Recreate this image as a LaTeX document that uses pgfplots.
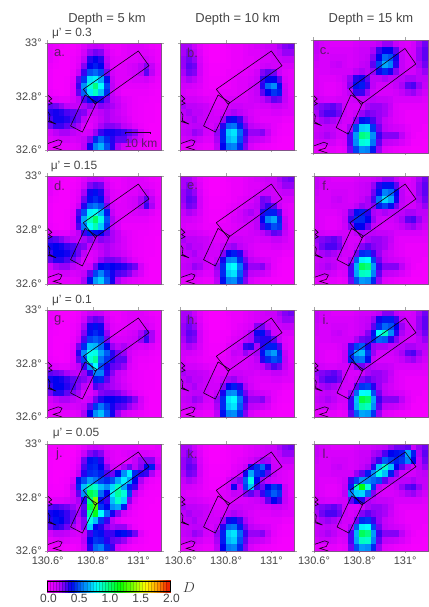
\documentclass[border=0pt]{standalone}
\usepackage{fontspec}
\setmainfont{Liberation Sans}
\usepackage{pgfplots}
\pgfplotsset{compat=1.18}
\definecolor{txtc}{RGB}{70,70,70}
\definecolor{edgec}{RGB}{130,85,135}
\definecolor{tickc}{RGB}{165,165,165}
\definecolor{lettc}{RGB}{95,25,105}
\pgfplotsset{colormap={hmap}{rgb255=(255,0,255) rgb255=(190,0,250) rgb255=(0,0,240) rgb255=(0,130,250) rgb255=(0,255,255) rgb255=(0,255,128) rgb255=(0,255,0) rgb255=(128,255,0) rgb255=(255,255,0) rgb255=(255,160,0) rgb255=(235,20,0)}}
\newcommand{\sizeK}{\fontsize{11}{13}\selectfont}
\newcommand{\sizeL}{\fontsize{12}{14}\selectfont}
\newcommand{\sizeM}{\fontsize{13}{15}\selectfont}
\newcommand{\sizeN}{\fontsize{15}{17}\selectfont}
\newcommand{\onepanel}[8]{%
\begin{axis}[at={(#1bp,#2bp)},anchor=south west,scale only axis,width=#3bp,height=#4bp,
 xmin=130.6,xmax=131.1,ymin=32.6,ymax=33,
 xtick={130.6,130.8,131},ytick={32.6,32.8,33},
 xticklabels={#6},yticklabels={#7},
 tick align=outside,tick pos=both,major tick length=2.5bp,
 tick style={color=tickc,line width=.6bp},
 axis line style={color=edgec,line width=.6bp},
 xticklabel style={font=\sizeK,text=txtc},
 yticklabel style={font=\sizeK,text=txtc},
 xticklabel pos=lower,yticklabel pos=left,
 colormap name=hmap,point meta min=0,point meta max=2]
\addplot[scatter,only marks,mark=square*,mark size=3.6bp,mark options={xscale=.81},
 scatter/use mapped color={draw=mapped color,fill=mapped color,line width=.4bp},
 point meta={\thisrowno{0}/100}] table[row sep=crcr,header=false,x index=0,y index=0,
 x expr={130.6125+0.025*mod(\coordindex,20)},y expr={32.9875-0.025*floor((\coordindex+0.5)/20)}] {#5};
\end{axis}
\begin{axis}[at={(#1bp,#2bp)},anchor=south west,scale only axis,width=#3bp,height=#4bp,
 xmin=130.6,xmax=131.1,ymin=32.6,ymax=33,hide axis,clip=false]
\addplot[black!85!violet,no marks,line width=.6bp] coordinates {(130.757,32.827)(131.0,32.970)(131.047,32.915)(130.809,32.772)(130.757,32.827)};
\addplot[black!85!violet,no marks,line width=.6bp] coordinates {(130.765,32.806)(130.816,32.778)(130.753,32.667)(130.701,32.690)(130.765,32.806)};
\addplot[black!85!violet,no marks,line width=.6bp] coordinates {(130.6,32.806)(130.618,32.791)(130.604,32.783)(130.619,32.775)(130.603,32.768)};
\addplot[black!85!violet,no marks,line width=.6bp] coordinates {(130.6,32.744)(130.610,32.731)(130.607,32.710)(130.637,32.697)(130.6,32.707)};
\addplot[black!85!violet,no marks,line width=.6bp] coordinates {(130.6,32.624)(130.647,32.638)(130.663,32.633)(130.654,32.617)(130.625,32.610)(130.663,32.6)};
\addplot[edgec,no marks,line width=.7bp] coordinates {(130.6,32.6)(131.1,32.6)(131.1,33)(130.6,33)(130.6,32.6)};
\node[anchor=center,text=lettc,font=\sizeM] at (axis cs:130.652,32.962) {#8};
\end{axis}}
\begin{document}
\begin{tikzpicture}
\path[use as bounding box] (0bp,0bp) rectangle (429bp,607bp);
\onepanel{47.7}{457}{113.3}{107}{
8\\6\\4\\3\\3\\5\\10\\16\\18\\16\\10\\6\\6\\8\\10\\10\\10\\8\\6\\5\\
8\\5\\3\\3\\4\\6\\14\\24\\28\\26\\14\\8\\6\\8\\10\\10\\10\\10\\8\\6\\
8\\5\\3\\3\\5\\8\\20\\36\\40\\36\\20\\10\\8\\8\\10\\10\\12\\14\\10\\6\\
6\\4\\3\\3\\5\\10\\26\\40\\44\\40\\22\\10\\8\\10\\12\\14\\20\\26\\18\\8\\
5\\3\\3\\3\\6\\16\\34\\52\\56\\50\\28\\14\\10\\10\\12\\14\\20\\30\\20\\8\\
5\\3\\3\\4\\8\\30\\48\\75\\78\\66\\42\\18\\10\\10\\10\\12\\12\\14\\10\\6\\
5\\3\\3\\4\\10\\34\\62\\86\\100\\80\\50\\20\\10\\8\\8\\8\\8\\8\\6\\5\\
6\\4\\3\\4\\10\\30\\55\\76\\90\\70\\46\\18\\10\\6\\6\\6\\6\\6\\5\\4\\
12\\10\\8\\8\\12\\20\\32\\42\\40\\38\\28\\20\\16\\10\\8\\6\\5\\5\\4\\4\\
30\\28\\24\\20\\18\\18\\22\\26\\22\\26\\24\\22\\18\\12\\8\\6\\5\\4\\4\\3\\
36\\38\\36\\32\\30\\28\\26\\18\\16\\20\\22\\20\\16\\12\\8\\6\\5\\4\\4\\3\\
32\\38\\38\\36\\32\\28\\20\\10\\12\\18\\22\\20\\18\\14\\10\\6\\5\\4\\4\\3\\
28\\34\\34\\30\\26\\22\\12\\8\\14\\22\\26\\26\\24\\20\\16\\10\\6\\4\\3\\3\\
14\\20\\22\\22\\20\\16\\12\\14\\24\\34\\38\\38\\36\\34\\30\\26\\14\\6\\3\\3\\
10\\12\\14\\14\\12\\14\\18\\26\\46\\56\\46\\36\\30\\30\\24\\20\\12\\5\\3\\3\\
6\\8\\8\\8\\8\\10\\20\\38\\60\\68\\52\\36\\22\\14\\10\\8\\6\\4\\3\\3\\
}{,,}{32.6°,32.8°,33°}{a.}
\onepanel{180.7}{457}{113.3}{107}{
22\\22\\16\\8\\4\\2\\2\\3\\5\\6\\6\\8\\10\\12\\14\\16\\16\\22\\26\\28\\
22\\26\\20\\10\\4\\2\\2\\3\\4\\6\\6\\8\\10\\10\\12\\14\\16\\20\\24\\24\\
24\\28\\24\\12\\5\\2\\2\\3\\4\\6\\6\\8\\8\\10\\12\\12\\14\\16\\18\\18\\
24\\30\\28\\14\\6\\3\\3\\4\\4\\6\\6\\8\\8\\10\\14\\16\\14\\14\\12\\12\\
22\\28\\26\\14\\6\\3\\3\\4\\6\\6\\8\\8\\10\\14\\26\\30\\28\\16\\10\\8\\
18\\22\\20\\12\\6\\4\\4\\5\\6\\8\\10\\10\\12\\16\\34\\40\\40\\30\\12\\8\\
14\\14\\12\\10\\6\\4\\4\\6\\6\\8\\10\\10\\14\\18\\36\\56\\62\\42\\16\\8\\
12\\10\\10\\8\\6\\6\\6\\8\\8\\8\\10\\10\\14\\18\\30\\40\\48\\44\\18\\8\\
16\\14\\14\\12\\10\\8\\8\\10\\12\\12\\12\\12\\14\\16\\20\\24\\30\\28\\18\\10\\
22\\20\\20\\18\\16\\12\\10\\10\\14\\16\\16\\14\\14\\12\\14\\14\\18\\18\\14\\10\\
20\\22\\20\\20\\16\\14\\12\\14\\20\\22\\20\\16\\12\\10\\10\\10\\12\\12\\10\\10\\
18\\20\\22\\18\\16\\14\\14\\24\\38\\42\\34\\22\\14\\10\\8\\8\\8\\8\\6\\6\\
16\\18\\20\\20\\16\\12\\18\\36\\56\\58\\44\\28\\20\\16\\14\\12\\8\\6\\4\\4\\
18\\20\\24\\22\\14\\12\\24\\44\\72\\76\\56\\34\\24\\24\\26\\18\\8\\5\\4\\4\\
14\\16\\18\\14\\10\\10\\22\\44\\68\\72\\52\\30\\20\\18\\16\\12\\6\\4\\3\\3\\
8\\8\\10\\8\\6\\6\\20\\40\\58\\60\\46\\26\\12\\8\\6\\5\\4\\3\\3\\3\\
}{,,}{,,}{b.}
\onepanel{313}{454}{115}{113}{
18\\14\\12\\10\\10\\10\\10\\12\\14\\14\\16\\20\\24\\24\\18\\12\\10\\14\\22\\28\\
18\\14\\12\\12\\12\\12\\12\\14\\16\\16\\22\\34\\40\\40\\30\\16\\12\\14\\24\\30\\
16\\12\\12\\14\\14\\14\\12\\14\\16\\18\\26\\40\\56\\52\\38\\18\\12\\14\\24\\30\\
14\\12\\12\\16\\18\\14\\12\\14\\18\\20\\30\\50\\66\\60\\36\\18\\12\\14\\22\\28\\
12\\12\\12\\14\\14\\14\\14\\20\\22\\20\\24\\38\\46\\38\\26\\18\\14\\14\\20\\24\\
12\\10\\10\\10\\12\\16\\24\\36\\38\\30\\20\\20\\22\\20\\20\\20\\22\\22\\20\\20\\
12\\10\\8\\8\\10\\14\\26\\42\\44\\34\\20\\14\\14\\14\\18\\22\\30\\32\\24\\18\\
12\\10\\8\\8\\10\\14\\20\\34\\34\\24\\16\\12\\12\\12\\14\\18\\22\\24\\20\\14\\
16\\14\\12\\12\\14\\14\\14\\16\\18\\18\\20\\18\\18\\16\\12\\12\\12\\12\\12\\10\\
24\\26\\28\\30\\26\\16\\12\\12\\16\\22\\24\\24\\22\\18\\10\\8\\8\\8\\8\\8\\
22\\28\\32\\32\\28\\16\\12\\16\\24\\28\\26\\24\\22\\16\\10\\8\\6\\6\\6\\6\\
18\\22\\24\\22\\20\\14\\14\\26\\42\\44\\32\\24\\18\\14\\10\\8\\6\\6\\6\\6\\
16\\18\\20\\18\\14\\12\\22\\50\\72\\74\\48\\28\\20\\16\\14\\12\\8\\6\\6\\4\\
18\\20\\22\\20\\14\\14\\32\\64\\100\\96\\62\\34\\26\\26\\26\\20\\10\\6\\4\\4\\
14\\16\\16\\14\\10\\12\\32\\62\\86\\84\\58\\30\\20\\18\\16\\12\\8\\4\\4\\3\\
8\\8\\8\\8\\6\\8\\28\\50\\62\\60\\44\\24\\10\\8\\6\\5\\4\\3\\3\\3\\
}{,,}{,,}{c.}
\onepanel{47.7}{323}{113.3}{108}{
8\\6\\4\\3\\3\\5\\10\\16\\18\\16\\10\\6\\6\\8\\10\\10\\10\\8\\6\\5\\
8\\5\\3\\3\\4\\6\\14\\26\\30\\28\\14\\8\\6\\8\\10\\10\\10\\10\\8\\6\\
8\\5\\3\\3\\5\\8\\22\\38\\42\\36\\20\\10\\8\\8\\10\\10\\14\\18\\12\\6\\
6\\4\\3\\3\\5\\10\\28\\42\\46\\42\\22\\10\\8\\10\\12\\14\\22\\30\\20\\8\\
5\\3\\3\\3\\6\\16\\36\\54\\58\\52\\28\\14\\10\\10\\12\\14\\22\\34\\22\\8\\
5\\3\\3\\4\\8\\32\\52\\78\\82\\68\\44\\18\\10\\10\\10\\12\\14\\14\\10\\6\\
5\\3\\3\\4\\10\\36\\66\\90\\104\\84\\52\\22\\12\\8\\8\\8\\8\\8\\6\\5\\
6\\4\\3\\4\\10\\32\\58\\80\\92\\72\\48\\20\\12\\6\\6\\6\\6\\6\\5\\4\\
12\\10\\8\\8\\12\\20\\34\\44\\42\\40\\30\\22\\18\\10\\8\\6\\5\\5\\4\\4\\
32\\30\\26\\22\\20\\18\\22\\26\\22\\26\\24\\22\\18\\12\\8\\6\\5\\4\\4\\3\\
38\\40\\38\\34\\32\\28\\26\\18\\16\\20\\22\\20\\16\\12\\8\\6\\5\\4\\4\\3\\
34\\40\\40\\38\\34\\28\\20\\10\\12\\18\\22\\20\\18\\14\\10\\6\\5\\4\\4\\3\\
30\\36\\36\\32\\28\\22\\12\\8\\14\\24\\28\\28\\26\\22\\16\\10\\6\\4\\3\\3\\
14\\22\\24\\24\\20\\16\\12\\14\\28\\40\\42\\40\\38\\36\\32\\28\\14\\6\\3\\3\\
10\\12\\14\\14\\12\\14\\18\\30\\50\\60\\48\\38\\32\\30\\26\\20\\12\\5\\3\\3\\
6\\8\\8\\8\\8\\10\\22\\42\\64\\72\\54\\38\\22\\14\\10\\8\\6\\4\\3\\3\\
}{,,}{32.6°,32.8°,33°}{d.}
\onepanel{180.7}{323}{113.3}{108}{
22\\22\\16\\8\\4\\2\\2\\3\\5\\6\\6\\8\\10\\12\\14\\16\\16\\22\\26\\28\\
22\\26\\20\\10\\4\\2\\2\\3\\4\\6\\6\\8\\10\\10\\12\\14\\16\\20\\24\\24\\
24\\28\\24\\12\\5\\2\\2\\3\\4\\6\\6\\8\\10\\12\\16\\16\\14\\16\\18\\18\\
24\\30\\28\\14\\6\\3\\3\\4\\4\\6\\8\\10\\12\\18\\28\\26\\16\\14\\12\\12\\
22\\28\\26\\14\\6\\3\\3\\4\\6\\8\\10\\14\\16\\20\\28\\34\\30\\18\\10\\8\\
18\\22\\20\\12\\6\\4\\4\\5\\8\\10\\14\\20\\22\\18\\36\\44\\44\\32\\12\\8\\
14\\14\\12\\10\\6\\4\\4\\6\\8\\12\\14\\18\\16\\20\\40\\60\\66\\46\\18\\8\\
12\\10\\10\\8\\6\\6\\6\\8\\8\\10\\12\\12\\14\\20\\34\\44\\52\\48\\20\\8\\
16\\14\\14\\12\\10\\8\\8\\10\\12\\12\\12\\12\\14\\16\\20\\24\\30\\28\\18\\10\\
22\\20\\20\\18\\16\\12\\10\\10\\14\\16\\16\\14\\14\\12\\14\\14\\18\\18\\14\\10\\
20\\22\\20\\20\\16\\14\\12\\16\\22\\24\\20\\16\\12\\10\\10\\10\\12\\12\\10\\10\\
18\\20\\22\\18\\16\\14\\14\\26\\40\\44\\36\\22\\14\\10\\8\\8\\8\\8\\6\\6\\
16\\18\\20\\20\\16\\12\\18\\38\\60\\62\\46\\28\\20\\16\\14\\12\\8\\6\\4\\4\\
18\\20\\24\\22\\14\\12\\24\\46\\76\\80\\58\\34\\24\\24\\26\\18\\8\\5\\4\\4\\
14\\16\\18\\14\\10\\10\\22\\46\\72\\76\\54\\30\\20\\18\\16\\12\\6\\4\\3\\3\\
8\\8\\10\\8\\6\\6\\20\\42\\60\\62\\48\\26\\12\\8\\6\\5\\4\\3\\3\\3\\
}{,,}{,,}{e.}
\onepanel{314}{323}{114}{108}{
18\\14\\12\\10\\10\\10\\10\\12\\14\\14\\16\\20\\24\\24\\18\\12\\10\\14\\22\\28\\
18\\14\\12\\12\\12\\12\\12\\14\\16\\18\\24\\36\\42\\42\\30\\16\\12\\14\\24\\30\\
16\\12\\12\\14\\14\\14\\12\\14\\16\\18\\28\\42\\60\\56\\40\\20\\12\\14\\24\\30\\
14\\12\\12\\16\\18\\14\\12\\14\\18\\22\\32\\58\\74\\66\\38\\20\\14\\14\\22\\28\\
12\\12\\12\\14\\14\\14\\14\\20\\24\\22\\26\\44\\50\\42\\28\\18\\14\\14\\20\\24\\
12\\10\\10\\10\\12\\16\\28\\42\\44\\36\\22\\20\\22\\20\\20\\20\\22\\22\\20\\20\\
12\\10\\8\\8\\10\\18\\34\\46\\46\\40\\24\\16\\14\\14\\18\\22\\30\\32\\24\\18\\
12\\10\\8\\8\\10\\16\\26\\40\\40\\30\\18\\14\\12\\12\\14\\18\\22\\24\\20\\14\\
16\\14\\12\\12\\14\\14\\14\\20\\22\\20\\20\\18\\18\\16\\12\\12\\12\\12\\12\\10\\
24\\26\\28\\30\\26\\16\\12\\12\\16\\22\\24\\24\\22\\18\\10\\8\\8\\8\\8\\8\\
22\\28\\32\\32\\28\\16\\12\\16\\26\\30\\26\\24\\22\\16\\10\\8\\6\\6\\6\\6\\
18\\22\\24\\22\\20\\14\\14\\28\\46\\48\\34\\24\\18\\14\\10\\8\\6\\6\\6\\6\\
16\\18\\20\\18\\14\\12\\22\\54\\78\\80\\50\\28\\20\\16\\14\\12\\8\\6\\6\\4\\
18\\20\\22\\20\\14\\14\\32\\68\\106\\100\\64\\34\\26\\26\\26\\20\\10\\6\\4\\4\\
14\\16\\16\\14\\10\\12\\32\\66\\90\\88\\60\\30\\20\\18\\16\\12\\8\\4\\4\\3\\
8\\8\\8\\8\\6\\8\\28\\52\\64\\62\\46\\24\\10\\8\\6\\5\\4\\3\\3\\3\\
}{,,}{,,}{f.}
\onepanel{47.7}{190}{113.3}{107}{
6\\5\\3\\3\\3\\5\\10\\16\\18\\16\\10\\6\\6\\8\\10\\10\\10\\8\\6\\5\\
6\\4\\3\\3\\4\\6\\14\\26\\30\\28\\14\\8\\6\\8\\10\\10\\10\\10\\8\\6\\
6\\4\\3\\3\\5\\8\\22\\38\\42\\38\\20\\10\\8\\8\\10\\10\\12\\14\\10\\6\\
5\\4\\3\\3\\5\\10\\26\\42\\46\\42\\24\\10\\8\\10\\12\\14\\22\\30\\22\\8\\
5\\3\\3\\3\\6\\14\\32\\50\\54\\50\\28\\14\\12\\12\\14\\16\\24\\34\\22\\8\\
5\\3\\3\\4\\8\\28\\46\\70\\68\\56\\40\\24\\20\\22\\18\\14\\12\\14\\10\\6\\
5\\3\\3\\4\\10\\36\\62\\82\\84\\66\\54\\36\\28\\24\\14\\10\\8\\8\\6\\5\\
6\\4\\3\\4\\10\\30\\50\\86\\96\\58\\48\\36\\30\\30\\16\\8\\6\\6\\5\\4\\
12\\10\\8\\8\\12\\20\\34\\62\\80\\52\\38\\30\\28\\24\\12\\8\\5\\5\\4\\4\\
30\\28\\26\\22\\20\\18\\24\\36\\60\\60\\36\\26\\18\\14\\8\\6\\5\\4\\4\\3\\
38\\40\\38\\34\\30\\28\\26\\22\\44\\46\\30\\22\\18\\12\\8\\6\\5\\4\\4\\3\\
34\\40\\40\\36\\32\\26\\20\\14\\32\\28\\24\\22\\20\\14\\10\\6\\5\\4\\4\\3\\
28\\36\\36\\30\\26\\22\\12\\10\\18\\26\\28\\28\\26\\22\\16\\10\\6\\4\\3\\3\\
14\\20\\22\\22\\20\\16\\12\\16\\28\\36\\40\\40\\38\\36\\32\\26\\14\\6\\3\\3\\
10\\12\\14\\14\\12\\14\\18\\30\\48\\58\\48\\38\\32\\30\\24\\20\\12\\5\\3\\3\\
6\\8\\8\\8\\8\\10\\22\\40\\62\\70\\54\\38\\24\\14\\10\\8\\6\\4\\3\\3\\
}{,,}{32.6°,32.8°,33°}{g.}
\onepanel{180.7}{190}{113.3}{107}{
22\\22\\16\\8\\4\\2\\2\\3\\5\\6\\6\\8\\10\\12\\14\\16\\16\\22\\26\\28\\
22\\26\\20\\10\\4\\2\\2\\3\\4\\6\\6\\8\\10\\12\\14\\14\\16\\20\\24\\24\\
24\\28\\24\\12\\5\\2\\2\\3\\4\\6\\8\\10\\12\\26\\28\\20\\14\\16\\18\\18\\
24\\30\\28\\14\\6\\3\\3\\4\\4\\8\\10\\14\\22\\38\\42\\30\\16\\14\\12\\12\\
22\\28\\26\\14\\6\\3\\3\\4\\6\\10\\12\\20\\22\\34\\36\\36\\30\\18\\10\\8\\
18\\22\\20\\12\\6\\4\\4\\5\\10\\14\\18\\34\\36\\22\\36\\44\\44\\32\\12\\8\\
14\\14\\12\\10\\6\\4\\4\\6\\10\\18\\16\\24\\20\\22\\42\\58\\64\\46\\18\\8\\
12\\10\\10\\8\\6\\6\\6\\8\\10\\14\\12\\12\\14\\20\\36\\46\\52\\48\\20\\8\\
16\\14\\14\\12\\10\\8\\8\\10\\12\\12\\12\\12\\14\\16\\20\\26\\32\\28\\18\\10\\
22\\20\\20\\18\\16\\12\\10\\10\\14\\16\\16\\14\\14\\12\\14\\14\\18\\18\\14\\10\\
20\\22\\20\\20\\16\\14\\12\\16\\22\\24\\20\\16\\12\\10\\10\\10\\12\\12\\10\\10\\
18\\20\\22\\18\\16\\14\\14\\26\\40\\44\\36\\22\\14\\10\\8\\8\\8\\8\\6\\6\\
16\\18\\20\\20\\16\\12\\18\\38\\60\\62\\46\\28\\20\\16\\14\\12\\8\\6\\4\\4\\
18\\20\\24\\22\\14\\12\\24\\46\\76\\80\\58\\34\\24\\24\\26\\18\\8\\5\\4\\4\\
14\\16\\18\\14\\10\\10\\22\\46\\72\\76\\54\\30\\20\\18\\16\\12\\6\\4\\3\\3\\
8\\8\\10\\8\\6\\6\\20\\42\\60\\62\\48\\26\\12\\8\\6\\5\\4\\3\\3\\3\\
}{,,}{,,}{h.}
\onepanel{314}{190}{114}{107}{
18\\14\\12\\10\\10\\10\\10\\12\\14\\14\\16\\20\\26\\26\\20\\14\\12\\14\\22\\28\\
18\\14\\12\\12\\12\\12\\12\\14\\16\\18\\24\\38\\44\\44\\34\\20\\14\\14\\24\\30\\
16\\12\\12\\14\\14\\14\\12\\14\\16\\20\\30\\46\\56\\52\\40\\24\\16\\14\\24\\30\\
14\\12\\12\\16\\18\\14\\12\\14\\18\\26\\42\\80\\90\\62\\36\\22\\16\\14\\22\\28\\
12\\12\\12\\14\\14\\14\\14\\22\\28\\30\\44\\56\\54\\36\\26\\18\\14\\14\\20\\24\\
12\\10\\10\\10\\12\\16\\34\\50\\54\\38\\24\\22\\22\\20\\20\\20\\22\\22\\20\\20\\
12\\10\\8\\8\\10\\18\\46\\66\\70\\48\\24\\14\\14\\14\\18\\22\\30\\32\\24\\18\\
12\\10\\8\\8\\10\\18\\44\\56\\58\\42\\18\\12\\12\\12\\14\\18\\22\\24\\20\\14\\
16\\14\\12\\12\\14\\14\\18\\26\\28\\22\\20\\18\\18\\16\\12\\12\\12\\12\\12\\10\\
24\\26\\28\\30\\26\\16\\12\\12\\16\\22\\24\\24\\22\\18\\10\\8\\8\\8\\8\\8\\
22\\28\\32\\32\\28\\16\\12\\16\\26\\30\\26\\24\\22\\16\\10\\8\\6\\6\\6\\6\\
18\\22\\24\\22\\20\\14\\14\\30\\48\\50\\36\\24\\18\\14\\10\\8\\6\\6\\6\\6\\
16\\18\\20\\18\\14\\12\\24\\56\\80\\82\\52\\28\\20\\16\\14\\12\\8\\6\\6\\4\\
18\\20\\22\\20\\14\\14\\34\\70\\110\\104\\66\\34\\26\\26\\26\\20\\10\\6\\4\\4\\
14\\16\\16\\14\\10\\12\\34\\68\\94\\90\\62\\30\\20\\18\\16\\12\\8\\4\\4\\3\\
8\\8\\8\\8\\6\\8\\30\\54\\66\\64\\48\\24\\10\\8\\6\\5\\4\\3\\3\\3\\
}{,,}{,,}{i.}
\onepanel{47.7}{56}{113.3}{107}{
4\\3\\3\\2\\2\\4\\8\\14\\16\\14\\10\\8\\8\\8\\8\\8\\6\\6\\6\\8\\
4\\3\\3\\2\\2\\6\\16\\26\\30\\26\\14\\10\\8\\10\\12\\14\\12\\12\\10\\8\\
3\\2\\2\\2\\3\\8\\28\\42\\44\\36\\18\\10\\8\\8\\10\\18\\24\\26\\26\\12\\
3\\2\\2\\2\\4\\12\\32\\44\\46\\40\\26\\14\\12\\22\\28\\20\\26\\40\\44\\20\\
3\\2\\2\\3\\6\\18\\36\\46\\48\\44\\32\\28\\40\\62\\78\\46\\36\\34\\22\\8\\
3\\2\\3\\4\\12\\42\\52\\64\\58\\50\\46\\52\\66\\78\\66\\40\\22\\10\\6\\4\\
4\\3\\3\\6\\20\\46\\70\\92\\88\\70\\62\\74\\90\\66\\44\\34\\14\\6\\4\\3\\
4\\4\\4\\6\\14\\30\\62\\108\\100\\56\\40\\78\\96\\86\\50\\20\\8\\4\\3\\3\\
8\\10\\10\\12\\16\\22\\36\\100\\140\\42\\34\\70\\88\\74\\26\\10\\4\\3\\3\\2\\
30\\32\\30\\28\\24\\20\\30\\110\\130\\48\\40\\62\\66\\44\\14\\6\\4\\3\\2\\2\\
38\\40\\38\\34\\28\\22\\32\\96\\116\\80\\56\\38\\26\\14\\8\\5\\3\\2\\2\\2\\
36\\42\\40\\34\\28\\18\\26\\84\\70\\48\\34\\20\\10\\6\\5\\4\\3\\2\\2\\2\\
30\\36\\34\\28\\22\\14\\26\\72\\40\\36\\26\\22\\24\\24\\14\\6\\3\\2\\2\\2\\
14\\20\\20\\18\\14\\12\\18\\34\\44\\42\\34\\34\\40\\42\\36\\28\\10\\4\\2\\2\\
8\\10\\12\\10\\8\\8\\20\\40\\48\\46\\36\\30\\28\\24\\14\\8\\5\\3\\2\\2\\
4\\6\\6\\4\\4\\6\\14\\36\\56\\60\\46\\34\\14\\8\\5\\3\\3\\2\\2\\2\\
}{130.6°,130.8°,131°}{32.6°,32.8°,33°}{j.}
\onepanel{180.7}{56}{113.3}{107}{
22\\22\\16\\8\\4\\2\\2\\3\\5\\6\\6\\8\\10\\12\\14\\16\\16\\22\\26\\28\\
22\\26\\20\\10\\4\\2\\2\\3\\4\\6\\6\\8\\10\\12\\14\\16\\16\\20\\24\\24\\
24\\28\\24\\12\\5\\2\\2\\3\\4\\6\\8\\10\\14\\20\\24\\22\\14\\16\\18\\18\\
24\\30\\28\\14\\6\\3\\3\\4\\4\\8\\10\\16\\38\\46\\56\\38\\16\\14\\12\\12\\
22\\28\\26\\14\\6\\3\\3\\4\\6\\10\\16\\38\\66\\48\\44\\30\\18\\12\\10\\8\\
18\\22\\20\\12\\6\\4\\4\\5\\12\\22\\26\\54\\84\\40\\24\\18\\14\\12\\10\\8\\
14\\14\\12\\10\\6\\4\\4\\8\\14\\38\\20\\50\\70\\34\\28\\40\\48\\44\\16\\8\\
12\\10\\10\\8\\6\\6\\6\\10\\12\\18\\16\\26\\30\\24\\34\\46\\54\\48\\18\\8\\
16\\14\\14\\12\\10\\8\\8\\10\\12\\12\\12\\12\\14\\16\\20\\30\\40\\34\\18\\10\\
22\\20\\20\\18\\16\\12\\10\\10\\14\\16\\16\\14\\14\\12\\14\\14\\18\\18\\14\\10\\
20\\22\\20\\20\\16\\14\\12\\14\\20\\22\\20\\16\\12\\10\\10\\10\\12\\12\\10\\10\\
18\\20\\22\\18\\16\\14\\14\\24\\38\\42\\34\\22\\14\\10\\8\\8\\8\\8\\6\\6\\
16\\18\\20\\20\\16\\12\\18\\36\\56\\58\\44\\28\\20\\16\\14\\12\\8\\6\\4\\4\\
18\\20\\24\\22\\14\\12\\24\\44\\72\\76\\56\\34\\24\\24\\26\\18\\8\\5\\4\\4\\
14\\16\\18\\14\\10\\10\\22\\44\\68\\72\\52\\30\\20\\18\\16\\12\\6\\4\\3\\3\\
8\\8\\10\\8\\6\\6\\20\\40\\58\\60\\46\\26\\12\\8\\6\\5\\4\\3\\3\\3\\
}{130.6°,130.8°,131°}{,,}{k.}
\onepanel{314}{56}{114}{107}{
18\\14\\12\\10\\10\\10\\10\\12\\14\\14\\16\\18\\20\\24\\28\\28\\30\\16\\24\\28\\
18\\14\\12\\12\\12\\12\\12\\14\\16\\16\\22\\24\\32\\40\\42\\44\\66\\44\\22\\30\\
16\\12\\12\\14\\14\\14\\12\\14\\16\\18\\26\\34\\54\\48\\44\\48\\60\\40\\20\\28\\
14\\12\\12\\16\\18\\14\\12\\14\\18\\22\\36\\70\\88\\70\\40\\30\\22\\14\\20\\24\\
12\\12\\12\\14\\14\\14\\14\\24\\30\\44\\62\\84\\70\\44\\26\\16\\14\\14\\18\\20\\
12\\10\\10\\10\\12\\16\\34\\50\\62\\60\\56\\52\\30\\22\\20\\20\\20\\22\\18\\18\\
12\\10\\8\\8\\10\\18\\44\\90\\118\\86\\48\\20\\14\\14\\18\\24\\30\\32\\24\\18\\
12\\10\\8\\8\\10\\20\\60\\72\\74\\56\\26\\14\\12\\12\\14\\18\\22\\24\\20\\14\\
16\\14\\12\\12\\14\\14\\30\\40\\36\\22\\20\\18\\18\\16\\12\\12\\12\\12\\12\\10\\
24\\26\\28\\30\\26\\16\\12\\12\\16\\22\\24\\24\\22\\18\\10\\8\\8\\8\\8\\8\\
22\\28\\32\\32\\28\\16\\12\\16\\26\\30\\26\\24\\22\\16\\10\\8\\6\\6\\6\\6\\
18\\22\\24\\22\\20\\14\\14\\28\\46\\48\\34\\24\\18\\14\\10\\8\\6\\6\\6\\6\\
16\\18\\20\\18\\14\\12\\22\\54\\78\\80\\50\\28\\20\\16\\14\\12\\8\\6\\6\\4\\
18\\20\\22\\20\\14\\14\\32\\68\\106\\100\\64\\34\\26\\26\\26\\20\\10\\6\\4\\4\\
14\\16\\16\\14\\10\\12\\32\\66\\90\\88\\60\\30\\20\\18\\16\\12\\8\\4\\4\\3\\
8\\8\\8\\8\\6\\8\\28\\52\\64\\62\\46\\24\\10\\8\\6\\5\\4\\3\\3\\3\\
}{130.6°,130.8°,131°}{,,}{l.}
% scale bar of panel a
\begin{axis}[at={(47.7bp,457bp)},anchor=south west,scale only axis,width=113.3bp,height=107bp,
 xmin=130.6,xmax=131.1,ymin=32.6,ymax=33,hide axis]
\addplot[black!70!violet,no marks,line width=.6bp] coordinates {(130.944,32.660)(130.944,32.666)(131.051,32.666)(131.051,32.660)};
\node[text=lettc,font=\sizeL] at (axis cs:131.012,32.627) {10 km};
\end{axis}
% colour bar
\begin{axis}[at={(47bp,16bp)},anchor=south west,scale only axis,width=123bp,height=10bp,
 xmin=0,xmax=2,ymin=0,ymax=1,ytick=\empty,
 xtick={0,0.5,1,1.5,2},xticklabels={0.0,0.5,1.0,1.5,2.0},
 tick align=outside,major tick length=2bp,tick pos=lower,
 xticklabel style={font=\sizeL,text=txtc,inner sep=0pt,yshift=-1bp,xshift=1.5bp},
 colormap name=hmap,point meta min=0,point meta max=2]
\addplot[scatter,only marks,mark=square*,mark size=6bp,mark options={xscale=.3},point meta=x] table[row sep=crcr] {
x y\\0.025 .5\\0.075 .5\\0.125 .5\\0.175 .5\\0.225 .5\\0.275 .5\\0.325 .5\\0.375 .5\\0.425 .5\\0.475 .5\\
0.525 .5\\0.575 .5\\0.625 .5\\0.675 .5\\0.725 .5\\0.775 .5\\0.825 .5\\0.875 .5\\0.925 .5\\0.975 .5\\
1.025 .5\\1.075 .5\\1.125 .5\\1.175 .5\\1.225 .5\\1.275 .5\\1.325 .5\\1.375 .5\\1.425 .5\\1.475 .5\\
1.525 .5\\1.575 .5\\1.625 .5\\1.675 .5\\1.725 .5\\1.775 .5\\1.825 .5\\1.875 .5\\1.925 .5\\1.975 .5\\
};
\end{axis}
\begin{axis}[at={(47bp,16bp)},anchor=south west,scale only axis,width=123bp,height=10bp,
 xmin=0,xmax=2,ymin=0,ymax=1,hide axis,clip=false]
\addplot[black,no marks,line width=.6bp] coordinates {(0,0)(2,0)(2,1)(0,1)(0,0)};
\end{axis}
\node[font=\sizeM,text=txtc] at (107bp,588bp) {Depth = 5 km};
\node[font=\sizeM,text=txtc] at (237.7bp,588bp) {Depth = 10 km};
\node[font=\sizeM,text=txtc] at (371bp,588bp) {Depth = 15 km};
\node[font=\sizeL,text=txtc] at (72bp,574bp) {μ' = 0.3};
\node[font=\sizeL,text=txtc] at (74bp,441bp) {μ' = 0.15};
\node[font=\sizeL,text=txtc] at (72bp,306.5bp) {μ' = 0.1};
\node[font=\sizeL,text=txtc] at (76bp,174bp) {μ' = 0.05};
\node[font=\sizeN,text=black!80] at (189bp,19bp) {$D$};
\end{tikzpicture}
\end{document}
